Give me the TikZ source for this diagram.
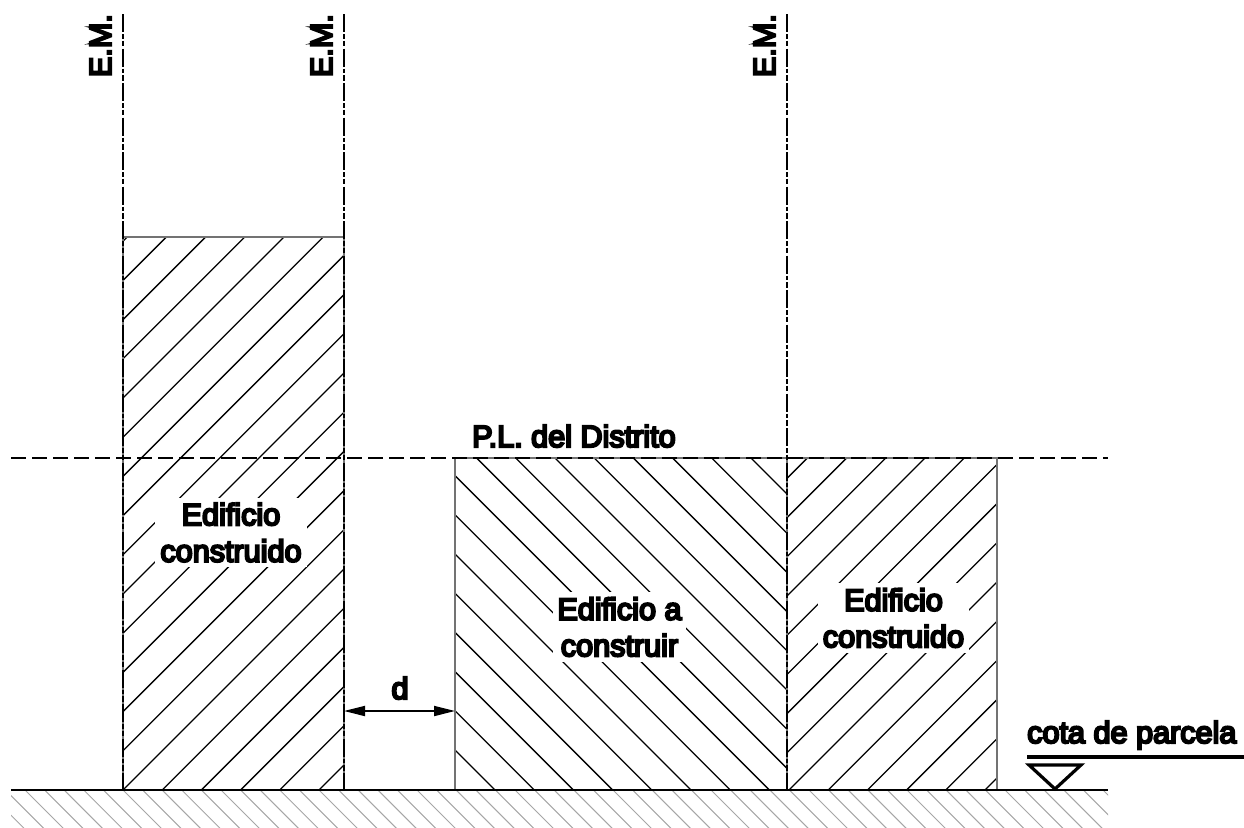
\documentclass[tikz,border=0pt]{standalone}
\usepackage{fontspec}
\newfontfamily\lab[FakeBold=7]{Liberation Sans}
\usetikzlibrary{arrows.meta}
\tikzset{
 x=1pt,y=-1pt,
 lbl/.style={font=\lab\fontsize{30.6}{36.5}\selectfont,inner sep=0pt,text=black},
 blk/.style={lbl,fill=white,align=center,minimum width=#1},
 hatch/.style={black,line width=1.3pt},
 ground/.style={draw=black!35,line width=1pt},
 em/.style={black,line width=1.8pt,dash pattern=on 18pt off 2pt on 4.5pt off 2pt on 5.5pt off 2.5pt},
 thin wall/.style={black!55,line width=1.4pt},
 plline/.style={black,line width=1.6pt,dash pattern=on 15pt off 6pt},
 dim/.style={black,line width=1.8pt,{Triangle[length=21pt,width=10pt]}-{Triangle[length=21pt,width=10pt]}},
}
\begin{document}
\begin{tikzpicture}
\useasboundingbox (0,0) rectangle (1244,827);
% ground hatch
\begin{scope}
\clip (11,790) rectangle (1108,827);
\foreach \k in {-8,...,51}{
  \draw[ground] ({123+\k*19.6-40},750) -- ({123+\k*19.6+40},830);
}
\end{scope}
\begin{scope}
\clip (123,237) rectangle (344,790);
\foreach \k in {-15,...,6}{
  \draw[hatch] ({913-790+\k*39.2},790) -- ({913-237+\k*39.2},237);
}
\end{scope}
\begin{scope}
\clip (455,458) rectangle (787,790);
\foreach \k in {-1,...,17}{
  \draw[hatch] ({-295+\k*39.2+458},458) -- ({-295+\k*39.2+790},790);
}
\end{scope}
\begin{scope}
\clip (787,458) rectangle (997,790);
\foreach \k in {-14,...,1}{
  \draw[hatch] ({1775+\k*39.2-790},790) -- ({1775+\k*39.2-458},458);
}
\end{scope}
% text masks with labels
\node[blk=152pt,minimum height=69pt] (t1) at (231,532.5) {Edificio\\construido};
\node[blk=133pt,minimum height=70pt] (t2) at (619.5,627) {Edificio a\\construir};
\node[blk=151pt,minimum height=70pt] (t3) at (893.5,618) {Edificio\\construido};
% outlines
\draw[thin wall] (123,237) rectangle (344,790);
\draw[thin wall] (455,458) rectangle (787,790);
\draw[thin wall] (787,458) rectangle (997,790);
% E.M. lines
\coordinate (a1) at (123,14); \coordinate (a2) at (123,790);
\coordinate (b1) at (344,14); \coordinate (b2) at (344,790);
\coordinate (c1) at (787,14); \coordinate (c2) at (787,790);
\draw[em] (a1) -- (a2);
\draw[em] (b1) -- (b2);
\draw[em] (c1) -- (c2);
\node[lbl,rotate=90,anchor=base east] (e1) at (111,14) {E.M.};
\node[lbl,rotate=90,anchor=base east] (e2) at (332,14) {E.M.};
\node[lbl,rotate=90,anchor=base east] (e3) at (775,14) {E.M.};
% PL
\coordinate (p1) at (11,458); \coordinate (p2) at (1108,458);
\draw[plline] (p1) -- (p2);
\node[lbl,anchor=base west] (pl) at (472,447) {P.L. del Distrito};
% ground line
\coordinate (g1) at (11,790); \coordinate (g2) at (1108,790);
\draw[black,line width=1.8pt] (g1) -- (g2);
% dimension
\coordinate (d1) at (344,711); \coordinate (d2) at (455,711);
\draw[dim] (d1) -- (d2);
\node[lbl,anchor=base] (d) at (400,699) {d};
% level
\node[lbl,anchor=base west] (cota) at (1027,743) {cota de parcela};
\coordinate (l1) at (1027,757); \coordinate (l2) at (1244,757);
\draw[black,line width=3.2pt] (l1) -- (l2);
\coordinate (v1) at (1029,765); \coordinate (v2) at (1081,765); \coordinate (v3) at (1055,789);
\draw[black,line width=3.2pt,miter limit=10] (v1) -- (v2) -- (v3) -- cycle;
\end{tikzpicture}
\end{document}
